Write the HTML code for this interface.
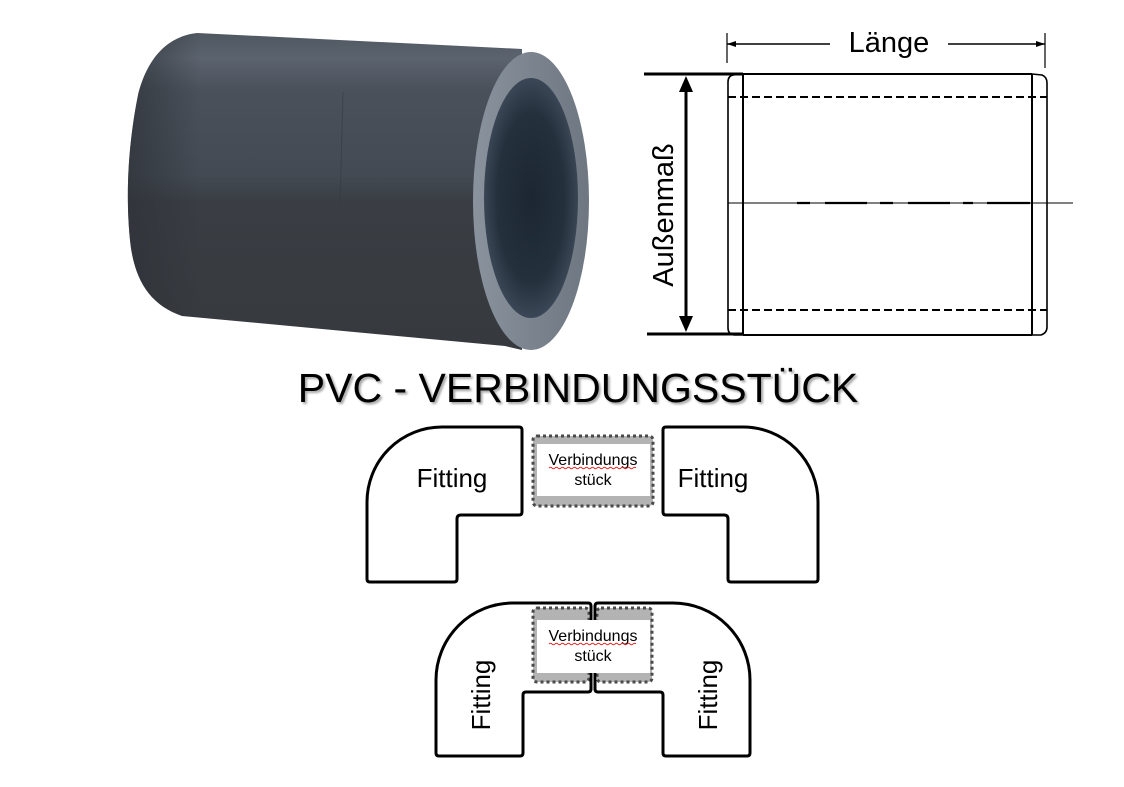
<!DOCTYPE html>
<html><head><meta charset="utf-8"><style>
html,body{margin:0;padding:0;background:#fff;}
body{width:1124px;height:787px;overflow:hidden;position:relative;font-family:"Liberation Sans",Arial,sans-serif;}
svg{position:absolute;left:0;top:0;}
.title{position:absolute;left:0;width:1156px;top:364px;text-align:center;font-size:41px;line-height:48px;color:#000;text-shadow:2px 2px 2px rgba(0,0,0,0.35);letter-spacing:0px;}
</style></head><body>
<svg width="1124" height="787" viewBox="0 0 1124 787" xmlns="http://www.w3.org/2000/svg">
<defs>
<linearGradient id="body" x1="0" y1="33" x2="0" y2="350" gradientUnits="userSpaceOnUse">
<stop offset="0" stop-color="#4f5761"/>
<stop offset="0.08" stop-color="#5b636e"/>
<stop offset="0.18" stop-color="#4a515b"/>
<stop offset="0.45" stop-color="#434a53"/>
<stop offset="0.53" stop-color="#3a3e44"/>
<stop offset="1" stop-color="#36393d"/>
</linearGradient>
<linearGradient id="bodyL" x1="128" y1="0" x2="200" y2="0" gradientUnits="userSpaceOnUse">
<stop offset="0" stop-color="#2e3238" stop-opacity="0.7"/>
<stop offset="1" stop-color="#2e3238" stop-opacity="0"/>
</linearGradient>
<linearGradient id="ring" x1="473" y1="0" x2="590" y2="0" gradientUnits="userSpaceOnUse">
<stop offset="0" stop-color="#8a939d"/>
<stop offset="0.5" stop-color="#7b848e"/>
<stop offset="1" stop-color="#6e7781"/>
</linearGradient>
<radialGradient id="hole" cx="531" cy="198" r="120" gradientUnits="userSpaceOnUse" gradientTransform="translate(531 198) scale(0.4 1) translate(-531 -198)">
<stop offset="0" stop-color="#1c2633"/>
<stop offset="0.7" stop-color="#25303d"/>
<stop offset="1" stop-color="#3b4756"/>
</radialGradient>
</defs>

<!-- Pipe photo -->
<path d="M197,33 L522,49 L522,350 L505,346 L182,316 C150,305 134,280 130,240 C126,200 127,150 138,95 C148,55 170,36 197,33 Z" fill="url(#body)"/>
<path d="M197,33 L240,35 L240,318 L182,316 C150,305 134,280 130,240 C126,200 127,150 138,95 C148,55 170,36 197,33 Z" fill="url(#bodyL)"/>
<path d="M343,92 L340,205" stroke="#353a41" stroke-width="1" opacity="0.6"/>
<ellipse cx="531" cy="201" rx="58" ry="149" fill="url(#ring)"/>
<ellipse cx="531" cy="198" rx="47" ry="120" fill="url(#hole)"/>

<!-- Technical drawing -->
<g stroke="#000" fill="none">
<line x1="727" y1="33" x2="727" y2="63" stroke-width="1.2"/>
<line x1="1045" y1="33" x2="1045" y2="68" stroke-width="1.2"/>
<line x1="727" y1="44" x2="830" y2="44" stroke-width="1.6"/>
<line x1="948" y1="44" x2="1045" y2="44" stroke-width="1.6"/>
<line x1="644" y1="74" x2="743" y2="74" stroke-width="3"/>
<line x1="647" y1="334" x2="743" y2="334" stroke-width="3"/>
<line x1="686" y1="86" x2="686" y2="322" stroke-width="3"/>
<line x1="743" y1="74" x2="1032" y2="74" stroke-width="2"/>
<line x1="743" y1="335" x2="1032" y2="335" stroke-width="2"/>
<line x1="743" y1="74" x2="743" y2="335" stroke-width="2"/>
<line x1="1032" y1="74" x2="1032" y2="335" stroke-width="2"/>
<path d="M743,74 L733,75 Q728,76 728,82 L728,328 Q728,334 734,335 L743,335" stroke-width="1.6"/>
<path d="M1032,74 L1042,75 Q1047,77 1047,83 L1047,327 Q1047,333 1041,335 L1032,335" stroke-width="1.6"/>
<line x1="728" y1="97" x2="1047" y2="97" stroke-width="2" stroke-dasharray="8 4"/>
<line x1="728" y1="310" x2="1047" y2="310" stroke-width="2" stroke-dasharray="8 4"/>
<line x1="728" y1="203" x2="1073" y2="203" stroke-width="1"/>
<path d="M797,203 H810 M825,203 H867 M880,203 H893 M908,203 H950 M963,203 H973 M987,203 H1030" stroke-width="2.2"/>
</g>
<path d="M686,76 L679,92 L693,92 Z" fill="#000"/>
<path d="M686,332 L679,316 L693,316 Z" fill="#000"/>
<path d="M727,44 L736,41 L736,47 Z" fill="#000"/>
<path d="M1045,44 L1036,41 L1036,47 Z" fill="#000"/>
<text x="889" y="52" font-family="Liberation Sans, sans-serif" font-size="29" text-anchor="middle" fill="#000">Länge</text>
<text transform="translate(673,215) rotate(-90)" x="0" y="0" font-family="Liberation Sans, sans-serif" font-size="29" text-anchor="middle" fill="#000">Außenmaß</text>

<!-- Top fittings -->
<g stroke="#000" stroke-width="3" fill="#fff" stroke-linejoin="round">
<path id="fitL" d="M442,427 L519,427 Q522,427 522,430 L522,512 Q522,515 519,515 L461,515 Q457,515 457,519 L457,579 Q457,582 454,582 L370,582 Q367,582 367,579 L367,502 A75,75 0 0 1 442,427 Z"/>
<path d="M442,427 L519,427 Q522,427 522,430 L522,512 Q522,515 519,515 L461,515 Q457,515 457,519 L457,579 Q457,582 454,582 L370,582 Q367,582 367,579 L367,502 A75,75 0 0 1 442,427 Z" transform="translate(1185,0) scale(-1,1)"/>
</g>
<rect x="533" y="436" width="120" height="70" rx="4" fill="#b3b3b3" stroke="#4a4a4a" stroke-width="3" stroke-dasharray="3 3"/>
<rect x="537" y="444" width="113" height="52" fill="#fff"/>
<text x="452" y="487" font-family="Liberation Sans, sans-serif" font-size="26" text-anchor="middle" fill="#000">Fitting</text>
<text x="713" y="487" font-family="Liberation Sans, sans-serif" font-size="26" text-anchor="middle" fill="#000">Fitting</text>
<text x="593" y="465" font-family="Liberation Sans, sans-serif" font-size="16" text-anchor="middle" fill="#000">Verbindungs</text>
<text x="593" y="485" font-family="Liberation Sans, sans-serif" font-size="16" text-anchor="middle" fill="#000">stück</text>
<path d="M549,468 q1.5,-1.5 3,0 t3,0 t3,0 t3,0 t3,0 t3,0 t3,0 t3,0 t3,0 t3,0 t3,0 t3,0 t3,0 t3,0 t3,0 t3,0 t3,0 t3,0 t3,0 t3,0 t3,0 t3,0 t3,0 t3,0 t3,0 t3,0 t3,0 t3,0 t3,0" stroke="#e02020" stroke-width="0.9" fill="none"/>

<!-- Bottom U -->
<g stroke="#000" stroke-width="3" fill="#fff" stroke-linejoin="round">
<path d="M513,603 L588,603 Q591,603 591,606 L591,689 Q591,692 588,692 L526,692 Q523,692 523,695 L523,753 Q523,756 520,756 L439,756 Q436,756 436,753 L436,680 A77,77 0 0 1 513,603 Z"/>
<path d="M513,603 L588,603 Q591,603 591,606 L591,689 Q591,692 588,692 L526,692 Q523,692 523,695 L523,753 Q523,756 520,756 L439,756 Q436,756 436,753 L436,680 A77,77 0 0 1 513,603 Z" transform="translate(1186,0) scale(-1,1)"/>
</g>
<rect x="533" y="608" width="56" height="74" rx="4" fill="#b3b3b3" stroke="#4a4a4a" stroke-width="3" stroke-dasharray="3 3"/>
<rect x="597" y="608" width="55" height="74" rx="4" fill="#b3b3b3" stroke="#4a4a4a" stroke-width="3" stroke-dasharray="3 3"/>
<rect x="537" y="620" width="113" height="53" fill="#fff"/>
<line x1="591" y1="606" x2="591" y2="690" stroke="#000" stroke-width="3"/>
<line x1="595" y1="606" x2="595" y2="690" stroke="#000" stroke-width="3"/>
<rect x="537" y="620" width="113" height="53" fill="#fff"/>
<text x="593" y="641" font-family="Liberation Sans, sans-serif" font-size="16" text-anchor="middle" fill="#000">Verbindungs</text>
<text x="593" y="661" font-family="Liberation Sans, sans-serif" font-size="16" text-anchor="middle" fill="#000">stück</text>
<path d="M549,644 q1.5,-1.5 3,0 t3,0 t3,0 t3,0 t3,0 t3,0 t3,0 t3,0 t3,0 t3,0 t3,0 t3,0 t3,0 t3,0 t3,0 t3,0 t3,0 t3,0 t3,0 t3,0 t3,0 t3,0 t3,0 t3,0 t3,0 t3,0 t3,0 t3,0 t3,0" stroke="#e02020" stroke-width="0.9" fill="none"/>
<text transform="translate(490,695) rotate(-90)" font-family="Liberation Sans, sans-serif" font-size="26" text-anchor="middle" fill="#000">Fitting</text>
<text transform="translate(717,695) rotate(-90)" font-family="Liberation Sans, sans-serif" font-size="26" text-anchor="middle" fill="#000">Fitting</text>
</svg>
<div class="title">PVC - VERBINDUNGSSTÜCK</div>
</body></html>
